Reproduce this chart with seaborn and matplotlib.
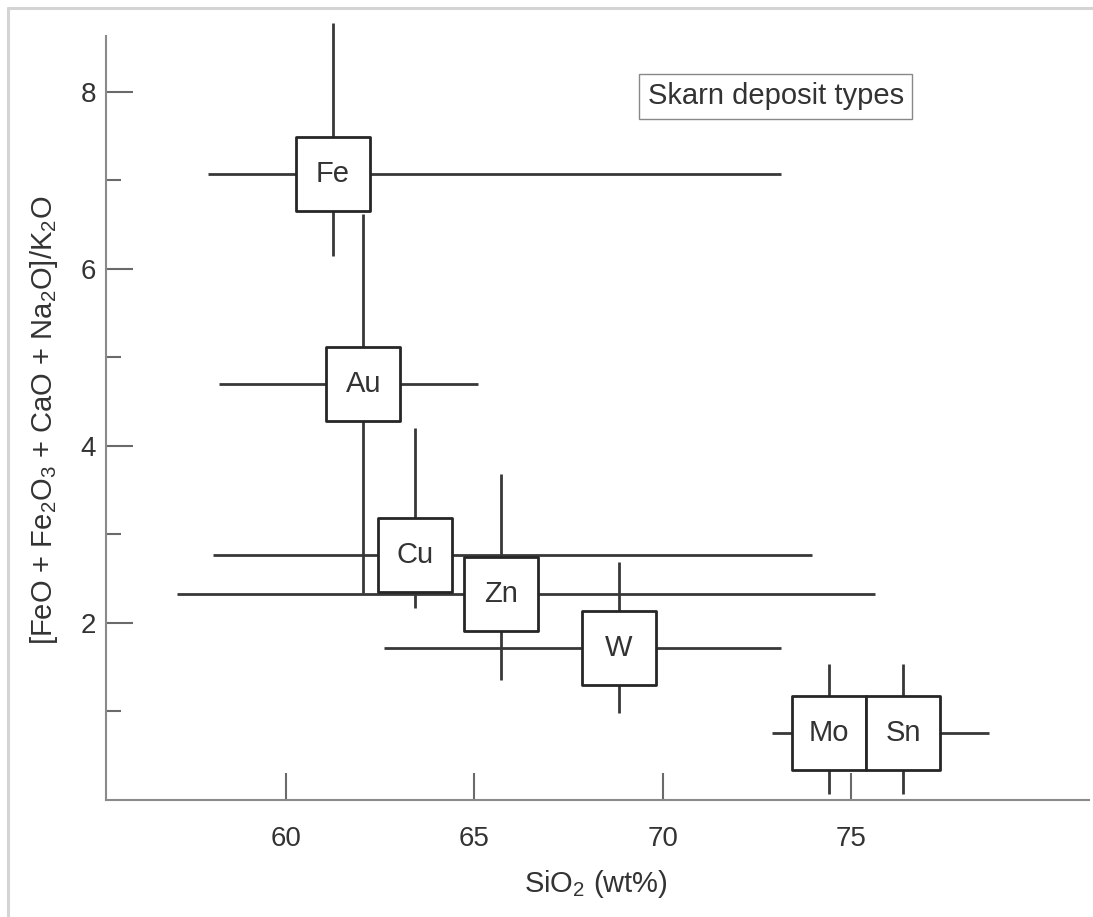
import matplotlib
matplotlib.use("Agg")
import matplotlib.pyplot as plt
import seaborn as sns
import pandas as pd
from matplotlib.lines import Line2D

# ---- data ----
deposit_types = ["Fe", "Au", "Cu", "Zn", "W", "Mo", "Sn"]
sio2_center = [61.25, 62.05, 63.42, 65.72, 68.84, 74.42, 76.38]
ratio_center = [7.07, 4.70, 2.77, 2.33, 1.72, 0.76, 0.76]
sio2_low = [57.93, 58.22, 58.06, 57.10, 62.60, 72.90, 75.40]
sio2_high = [73.15, 65.10, 73.96, 75.64, 73.14, 75.40, 78.66]
ratio_low = [6.15, 2.34, 2.17, 1.36, 0.98, 0.07, 0.07]
ratio_high = [8.78, 6.62, 4.20, 3.68, 2.69, 1.54, 1.54]

x_ticks = [60, 65, 70, 75]
y_major = [2, 4, 6, 8]
y_minor = [1, 3, 5, 7]

df = pd.DataFrame({"type": deposit_types, "sio2": sio2_center, "ratio": ratio_center})

sns.set_style("ticks")
plt.rcParams["font.family"] = ["Liberation Sans", "DejaVu Sans"]
plt.rcParams["mathtext.default"] = "regular"

W, H = 1093, 917
fig = plt.figure(figsize=(W / 100, H / 100), dpi=100)
ax = fig.add_axes([106 / W, (H - 800) / H, (1089 - 106) / W, (800 - 15) / H])

line_col = "#383838"
ax.hlines(df["ratio"], sio2_low, sio2_high, color=line_col, lw=2.0, zorder=2)
ax.vlines(df["sio2"], ratio_low, ratio_high, color=line_col, lw=2.0, zorder=2)

sns.scatterplot(data=df, x="sio2", y="ratio", marker="s", s=2780, color="white",
                edgecolor="#262626", linewidth=2.0, zorder=3, ax=ax, legend=False)
for t, xv, yv in zip(deposit_types, sio2_center, ratio_center):
    ax.text(xv, yv, t, ha="center", va="center", fontsize=21, color="#333333", zorder=4)

ax.text(73.0, 7.95, "Skarn deposit types", ha="center", va="center", fontsize=21,
        color="#333333",
        bbox=dict(boxstyle="square,pad=0.3", facecolor="white", edgecolor="#888888", lw=1.0))

ax.set_xlim(55.22, 81.32)
ax.set_ylim(0, 8.87)
ax.spines["left"].set_bounds(0, 8.63)
for s in ["top", "right"]:
    ax.spines[s].set_visible(False)
for s in ["left", "bottom"]:
    ax.spines[s].set_color("#8a8a8a")
    ax.spines[s].set_linewidth(1.5)

ax.set_xticks(x_ticks)
ax.set_xticklabels([str(v) for v in x_ticks])
ax.set_yticks(y_major)
ax.set_yticklabels([str(v) for v in y_major])
ax.set_yticks(y_minor, minor=True)
ax.tick_params(axis="both", which="major", direction="in", length=19.5, width=1.5,
               color="#6a6a6a", labelsize=20, labelcolor="#333333", pad=7)
ax.tick_params(axis="y", which="minor", direction="in", length=11, width=1.5, color="#6a6a6a")
ax.tick_params(axis="x", which="major", pad=19)

ax.set_xlabel("SiO$_2$ (wt%)", fontsize=21, color="#333333")
ax.set_ylabel("[FeO + Fe$_2$O$_3$ + CaO + Na$_2$O]/K$_2$O", fontsize=21, color="#333333")
ax.xaxis.set_label_coords((596 - 106) / 983, -(868 - 800) / 785)
ax.yaxis.set_label_coords(-(106 - 60) / 983, (800 - 420) / 785)

# light frame around the figure (top and left edges)
fig.add_artist(Line2D([8 / W, 8 / W], [0, 1 - 8 / H], transform=fig.transFigure, color="#d4d4d4", lw=2.2))
fig.add_artist(Line2D([8 / W, 1], [1 - 8 / H, 1 - 8 / H], transform=fig.transFigure, color="#d4d4d4", lw=2.2))

fig.savefig("out.png", dpi=100, facecolor="white")
